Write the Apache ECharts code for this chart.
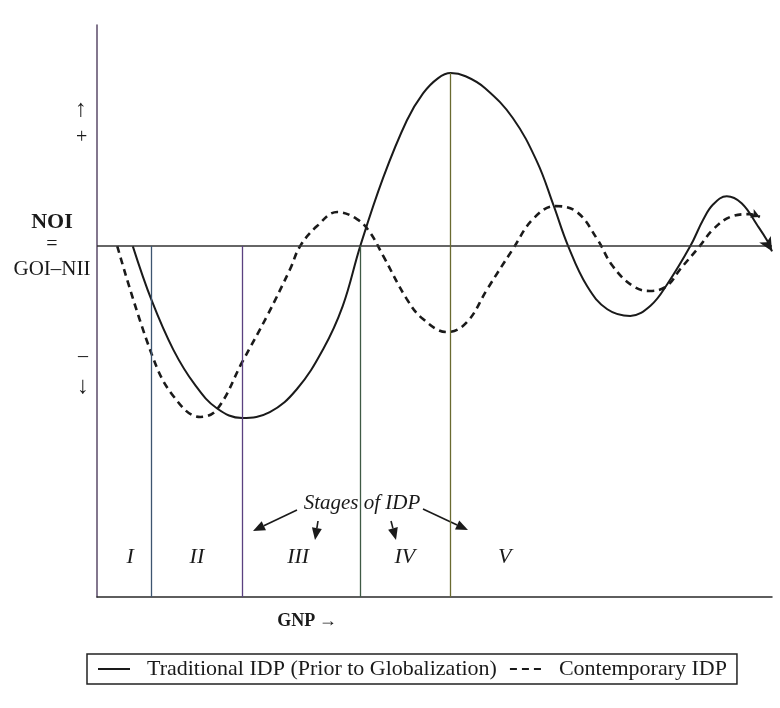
<!DOCTYPE html>
<html>
<head>
<meta charset="utf-8">
<script src="https://cdn.jsdelivr.net/npm/echarts@6/dist/echarts.min.js"></script>
<style>
  html, body { margin: 0; padding: 0; background: #fff; }
  #chartDiv { width: 780px; height: 708px; }
</style>
</head>
<body>
<div id="chartDiv"></div>
<script>
var myChart = echarts.init(document.getElementById('chartDiv'));
window.onresize = myChart.resize;

// GNP (x) against NOI (y)
var traditionalX = [5.3, 8.1, 11.3, 14.5, 17.8, 21.5, 25.6, 29.6, 33.5, 36.4, 39.0, 42.4, 45.9, 48.3, 50.5, 52.4,
    54.6, 57.5, 61.6, 65.2, 67.6, 69.8, 72.6, 75.6, 79.0, 82.0, 84.5, 87.9, 89.8, 91.3, 93.3, 95.5, 97.8, 99.3, 100];
var traditionalY = [0, -15.5, -29.5, -39.5, -46.3, -49.0, -47.3, -40.8, -29.4, -17.1, 0, 19.5, 35.8, 43.5, 47.8, 49.3,
    48.4, 45.0, 36.5, 24.0, 11.8, 0, -11.4, -18.0, -19.9, -17.0, -10.8, 0, 7.5, 11.9, 14.2, 12.2, 6.0, 1.5, -1.5];

var contemporaryX = [3.0, 8.1, 11.3, 15.3, 17.8, 21.5, 25.2, 28.6, 30.1, 32.6, 35.6, 38.5, 40.4, 42.4, 45.9, 48.3,
    51.9, 54.8, 57.8, 61.6, 64.6, 67.9, 71.1, 74.1, 76.4, 79.4, 81.9, 84.4, 86.4, 89.3, 91.3, 93.8, 96.7, 98.2];
var contemporaryY = [0, -30.8, -42.7, -48.7, -46.5, -33.1, -19.9, -6.6, 0, 5.7, 9.7, 7.7, 4.0, -2.8, -15.1, -20.8,
    -24.5, -21.7, -12.3, -0.9, 7.7, 11.4, 9.7, 2.0, -5.7, -11.4, -12.8, -11.4, -6.6, 0, 4.8, 8.3, 9.1, 8.3];

// stage boundaries and where each boundary line starts
var stageBounds = [8.1, 21.5, 39.0, 52.4];
var stageTops = [0, 0, 0, 49.3];
var stageColors = ['#3d5570', '#5a4080', '#3f5a45', '#6a6a30'];
var stageNames = ['I', 'II', 'III', 'IV', 'V'];
var stageLabelX = [4.9, 14.8, 29.8, 45.6, 60.4];
var stageLabelY = -88.6;

var seriesNames = ['Traditional IDP (Prior to Globalization)', 'Contemporary IDP'];

function pairs(xs, ys) {
    return xs.map(function (x, i) { return [x, ys[i]]; });
}

var serif = '"Liberation Serif", "DejaVu Serif", serif';
var ink = '#1a1a1a';

function arrow(x1, y1, x2, y2) {
    var a = Math.atan2(y2 - y1, x2 - x1);
    var L = 12, W = 5;
    var bx = x2 - L * Math.cos(a), by = y2 - L * Math.sin(a);
    return [
        {type: 'line', shape: {x1: x1, y1: y1, x2: bx, y2: by}, style: {stroke: ink, lineWidth: 1.6}},
        {type: 'polygon', shape: {points: [[x2, y2],
            [bx + W * Math.sin(a), by - W * Math.cos(a)],
            [bx - W * Math.sin(a), by + W * Math.cos(a)]]}, style: {fill: ink}}
    ];
}

var tradData = pairs(traditionalX, traditionalY);
var contData = pairs(contemporaryX, contemporaryY);

var boundLines = stageBounds.map(function (x, i) {
    return [
        {coord: [x, stageTops[i]], lineStyle: {color: stageColors[i], width: 1.3, type: 'solid'}},
        {coord: [x, -100]}
    ];
});

option = {
    backgroundColor: '#ffffff',
    animation: false,
    grid: {left: 97, right: 8, top: 25, bottom: 111},
    xAxis: {
        type: 'value',
        min: 0,
        max: 100,
        axisLine: {show: true, onZero: false, lineStyle: {color: '#2a2a2a', width: 1.5}},
        axisTick: {show: false},
        axisLabel: {show: false},
        splitLine: {show: false}
    },
    yAxis: {
        type: 'value',
        min: -100,
        max: 63,
        axisLine: {show: true, onZero: false, lineStyle: {color: '#5a4a68', width: 1.5}},
        axisTick: {show: false},
        axisLabel: {show: false},
        splitLine: {show: false}
    },
    legend: {
        data: seriesNames,
        left: 87,
        top: 654,
        padding: [4, 10, 4, 10],
        itemGap: 12,
        itemWidth: 32,
        itemHeight: 12,
        borderColor: '#222',
        borderWidth: 1.5,
        itemStyle: {opacity: 0},
        lineStyle: {opacity: 1},
        textStyle: {fontFamily: serif, fontSize: 22, color: ink, padding: [0, 0, 0, 12]}
    },
    graphic: [
        {type: 'text', left: 75, top: 98, style: {text: '\u2191', font: '24px ' + serif, fill: ink}},
        {type: 'text', left: 76, top: 128, style: {text: '+', font: '20px ' + serif, fill: ink}},
        {type: 'text', style: {x: 52, y: 222, text: 'NOI', font: 'bold 22px ' + serif, fill: ink, align: 'center', verticalAlign: 'middle'}},
        {type: 'text', style: {x: 52, y: 245, text: '=', font: '20px ' + serif, fill: ink, align: 'center', verticalAlign: 'middle'}},
        {type: 'text', style: {x: 52, y: 269, text: 'GOI\u2013NII', font: '21px ' + serif, fill: ink, align: 'center', verticalAlign: 'middle'}},
        {type: 'text', style: {x: 83, y: 357, text: '\u2013', font: '20px ' + serif, fill: ink, align: 'center', verticalAlign: 'middle'}},
        {type: 'text', style: {x: 83, y: 387, text: '\u2193', font: '24px ' + serif, fill: ink, align: 'center', verticalAlign: 'middle'}},
        {type: 'text', style: {x: 362, y: 503, text: 'Stages of IDP', font: 'italic 21px ' + serif, fill: ink, align: 'center', verticalAlign: 'middle'}},
        {type: 'text', style: {x: 307, y: 621, text: 'GNP\u2009\u2192', font: 'bold 18px ' + serif, fill: ink, align: 'center', verticalAlign: 'middle'}}
    ].concat(arrow(297, 510, 253, 531), arrow(318, 521, 315, 540), arrow(391, 521, 396, 540), arrow(423, 509, 468, 530)),
    series: [
        {
            name: seriesNames[0],
            type: 'line',
            data: tradData,
            smooth: 0.4,
            clip: false,
            symbol: 'none',
            lineStyle: {color: ink, width: 2},
            itemStyle: {color: ink},
            markLine: {
                silent: true,
                symbol: 'none',
                label: {show: false},
                lineStyle: {color: '#333', width: 1.5, type: 'solid'},
                data: [{yAxis: 0}].concat(boundLines)
            },
            markPoint: {
                silent: true,
                symbol: 'arrow',
                symbolSize: [10, 14],
                symbolRotate: -150,
                itemStyle: {color: ink},
                label: {show: false},
                data: [{coord: tradData[tradData.length - 1]}]
            }
        },
        {
            name: seriesNames[1],
            type: 'line',
            data: contData,
            smooth: 0.4,
            clip: false,
            symbol: 'none',
            lineStyle: {color: ink, width: 2.6, type: [7, 5]},
            itemStyle: {color: ink},
            markPoint: {
                silent: true,
                symbol: 'arrow',
                symbolSize: [7, 9],
                symbolRotate: -115,
                itemStyle: {color: ink},
                label: {show: false},
                data: [{coord: contData[contData.length - 1]}]
            }
        },
        {
            name: 'stages',
            type: 'scatter',
            symbolSize: 0,
            silent: true,
            itemStyle: {opacity: 1},
            data: stageLabelX.map(function (x, i) { return [x, stageLabelY, stageNames[i]]; }),
            label: {
                show: true,
                position: 'inside',
                fontFamily: serif,
                fontStyle: 'italic',
                fontSize: 22,
                color: ink,
                opacity: 1,
                formatter: function (p) { return p.value[2]; }
            }
        }
    ]
};
myChart.setOption(option);
</script>
</body>
</html>
